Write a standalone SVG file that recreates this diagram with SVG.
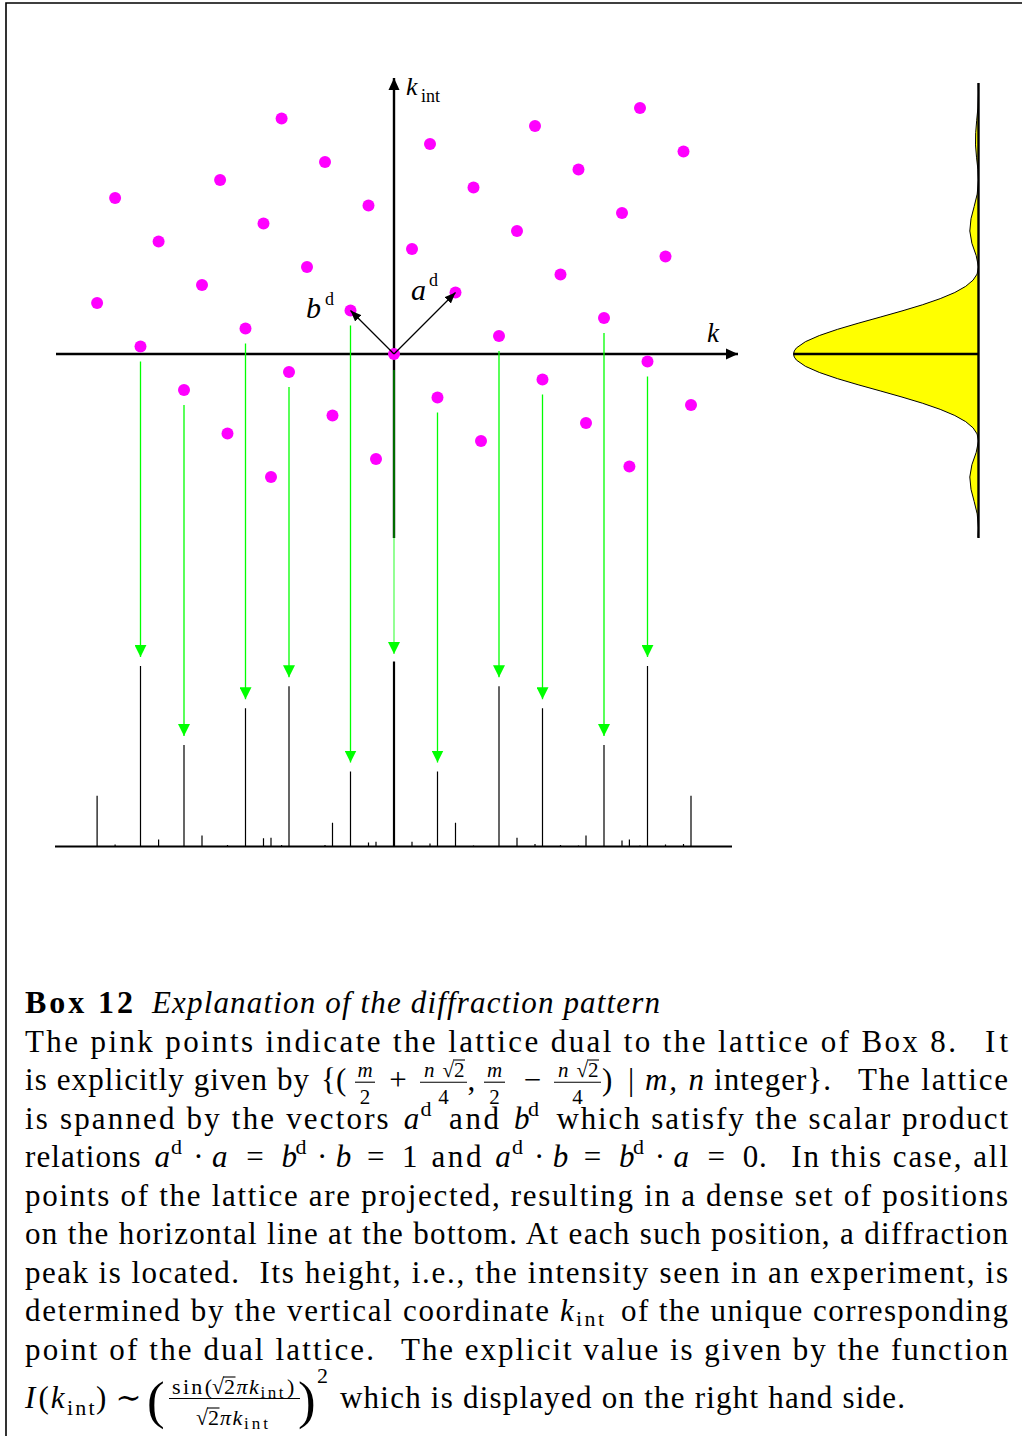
<svg xmlns="http://www.w3.org/2000/svg" width="1022" height="1436" viewBox="0 0 1022 1436">
<style>
.dot{fill:#ff00ff}
.axis{stroke:#000;stroke-width:2.4;fill:none}
.vec{stroke:#000;stroke-width:1.3;fill:none}
.proj{stroke:#00ff00;stroke-width:1.3;fill:none}
.peak{stroke:#000;stroke-width:1.2;fill:none}
.t{font-family:"Liberation Serif","DejaVu Serif",serif;font-size:31px;fill:#000}
.lab{font-family:"Liberation Serif","DejaVu Serif",serif;fill:#000}
.it{font-style:italic}
.s{font-size:22px}
.fr{font-size:21px}
.ss{font-size:17px}
.big{font-size:53px}
.rule{stroke:#000;stroke-width:1.1}
</style>
<defs>
<marker id="ah" markerUnits="userSpaceOnUse" viewBox="0 0 12 12" markerWidth="12" markerHeight="12" refX="12" refY="6" orient="auto"><path d="M0,0.5 L12,6 L0,11.5 Z" fill="#000"/></marker>
<marker id="vh" markerUnits="userSpaceOnUse" viewBox="0 0 11 9" markerWidth="11" markerHeight="9" refX="11" refY="4.5" orient="auto"><path d="M0,0 L11,4.5 L0,9 Z" fill="#000"/></marker>
<marker id="gh" markerUnits="userSpaceOnUse" viewBox="0 0 12 12" markerWidth="12" markerHeight="12" refX="12" refY="6" orient="auto"><path d="M0,0 L12,6 L0,12 Z" fill="#00ff00"/></marker>
</defs>
<path d="M6,1436 V3 H1022" fill="none" stroke="#000" stroke-width="1.6"/>

<g id="profile">
<path d="M978.5,83.4 L978.3,83.4 L978.5,93.1 L977.9,108 L976.7,120.3 L975.7,132.6 L975.5,144.9 L976.5,157.2 L977.9,169.5 L978.5,180.1 L977.2,194.1 L974.2,206.4 L971.0,218.7 L969.8,231 L971.9,243.3 L976.2,255.6 L978.5,267.0 L977.1,274.05 L973.0,280.2 L965.7,286.35 L954.8,292.5 L940.2,298.65 L922.4,304.8 L902.0,310.95 L880.2,317.1 L858.1,323.25 L837.3,329.4 L819.3,335.55 L805.4,341.7 L796.5,347.85 L794.3,350.9 L793.5,354 L794.3,357.1 L796.5,360.15 L805.4,366.3 L819.3,372.45 L837.3,378.6 L858.1,384.75 L880.2,390.9 L902.0,397.05 L922.4,403.2 L940.2,409.35 L954.8,415.5 L965.7,421.65 L973.0,427.8 L977.1,433.95 L978.5,441.0 L976.2,452.4 L971.9,464.7 L969.8,477 L971.0,489.3 L974.2,501.6 L977.2,513.9 L978.5,527.9 L978.0,537.3 L978.5,537.3 Z" fill="#ffff00" stroke="#000" stroke-width="1" stroke-linejoin="round"/>
<line class="axis" x1="978.5" y1="83" x2="978.5" y2="538"/>
<line class="axis" x1="793.5" y1="354" x2="978.5" y2="354"/>
</g>

<g id="axes">
<line class="axis" x1="56" y1="354" x2="738" y2="354" marker-end="url(#ah)"/>
<line class="axis" x1="394" y1="538" x2="394" y2="78" marker-end="url(#ah)"/>
</g>

<g id="connectors">
<line class="proj" x1="140.5" y1="361.5" x2="140.5" y2="656.9" marker-end="url(#gh)"/>
<line class="proj" x1="184" y1="405" x2="184" y2="736" marker-end="url(#gh)"/>
<line class="proj" x1="245.5" y1="343.5" x2="245.5" y2="699.2" marker-end="url(#gh)"/>
<line class="proj" x1="289" y1="387" x2="289" y2="677.2" marker-end="url(#gh)"/>
<line class="proj" x1="350.5" y1="325.5" x2="350.5" y2="762.5" marker-end="url(#gh)"/>
<line class="proj" x1="394" y1="370" x2="394" y2="654" stroke-opacity="0.65" marker-end="url(#gh)"/>
<line class="proj" x1="437.5" y1="412.5" x2="437.5" y2="762.5" marker-end="url(#gh)"/>
<line class="proj" x1="499" y1="351" x2="499" y2="677.2" marker-end="url(#gh)"/>
<line class="proj" x1="542.5" y1="394.5" x2="542.5" y2="699.2" marker-end="url(#gh)"/>
<line class="proj" x1="604" y1="333" x2="604" y2="736" marker-end="url(#gh)"/>
<line class="proj" x1="647.5" y1="376.5" x2="647.5" y2="656.9" marker-end="url(#gh)"/>
</g>

<g id="lattice">
<circle id="p_m2_n4" class="dot" cx="97.1" cy="303" r="6"/>
<circle id="p_m2_n3" class="dot" cx="140.5" cy="346.5" r="6"/>
<circle id="p_m2_n2" class="dot" cx="184" cy="390" r="6"/>
<circle id="p_m2_n1" class="dot" cx="227.5" cy="433.5" r="6"/>
<circle id="p_m2_n0" class="dot" cx="271" cy="477" r="6"/>
<circle id="p_m1_n5" class="dot" cx="115.1" cy="198.1" r="6"/>
<circle id="p_m1_n4" class="dot" cx="158.6" cy="241.5" r="6"/>
<circle id="p_m1_n3" class="dot" cx="202" cy="285" r="6"/>
<circle id="p_m1_n2" class="dot" cx="245.5" cy="328.5" r="6"/>
<circle id="p_m1_n1" class="dot" cx="289" cy="372" r="6"/>
<circle id="p_m1_p0" class="dot" cx="332.5" cy="415.5" r="6"/>
<circle id="p_m1_p1" class="dot" cx="376" cy="459" r="6"/>
<circle id="p_0_n4" class="dot" cx="220.1" cy="180" r="6"/>
<circle id="p_0_n3" class="dot" cx="263.5" cy="223.5" r="6"/>
<circle id="p_0_n2" class="dot" cx="307" cy="267" r="6"/>
<circle id="p_0_n1" class="dot" cx="350.5" cy="310.5" r="6"/>
<circle id="p_0_0" class="dot" cx="394" cy="354" r="6"/>
<circle id="p_0_p1" class="dot" cx="437.5" cy="397.5" r="6"/>
<circle id="p_0_p2" class="dot" cx="481" cy="441" r="6"/>
<circle id="p_1_n4" class="dot" cx="281.6" cy="118.5" r="6"/>
<circle id="p_1_n3" class="dot" cx="325" cy="162" r="6"/>
<circle id="p_1_n2" class="dot" cx="368.5" cy="205.5" r="6"/>
<circle id="p_1_n1" class="dot" cx="412" cy="249" r="6"/>
<circle id="p_1_0" class="dot" cx="455.5" cy="292.5" r="6"/>
<circle id="p_1_p1" class="dot" cx="499" cy="336" r="6"/>
<circle id="p_1_p2" class="dot" cx="542.5" cy="379.5" r="6"/>
<circle id="p_1_p3" class="dot" cx="586" cy="423" r="6"/>
<circle id="p_1_p4" class="dot" cx="629.4" cy="466.5" r="6"/>
<circle id="p_2_n2" class="dot" cx="430" cy="144" r="6"/>
<circle id="p_2_n1" class="dot" cx="473.5" cy="187.5" r="6"/>
<circle id="p_2_0" class="dot" cx="517" cy="231" r="6"/>
<circle id="p_2_p1" class="dot" cx="560.5" cy="274.5" r="6"/>
<circle id="p_2_p2" class="dot" cx="604" cy="318" r="6"/>
<circle id="p_2_p3" class="dot" cx="647.5" cy="361.5" r="6"/>
<circle id="p_2_p4" class="dot" cx="691" cy="405" r="6"/>
<circle id="p_3_n1" class="dot" cx="535" cy="126" r="6"/>
<circle id="p_3_0" class="dot" cx="578.5" cy="169.5" r="6"/>
<circle id="p_3_p1" class="dot" cx="622" cy="213" r="6"/>
<circle id="p_3_p2" class="dot" cx="665.5" cy="256.5" r="6"/>
<circle id="p_4_0" class="dot" cx="640" cy="108" r="6"/>
<circle id="p_4_p1" class="dot" cx="683.5" cy="151.5" r="6"/>
</g>

<g id="vectors">
<line class="vec" x1="394" y1="354" x2="455.5" y2="292.5" marker-end="url(#vh)"/>
<line class="vec" x1="394" y1="354" x2="350.5" y2="310.5" marker-end="url(#vh)"/>
</g>

<g id="peaks">
<line x1="55" y1="846.5" x2="732" y2="846.5" stroke="#000" stroke-width="1.8"/>
<path class="peak" d="M97.1,846.5V795.8 M115.1,846.5V844.4 M140.5,846.5V665.9 M158.6,846.5V839.4 M184,846.5V745 M202,846.5V835.6 M227.5,846.5V844.9 M245.5,846.5V708.2 M263.5,846.5V838.2 M271,846.5V837.8 M281.6,846.5V844.9 M289,846.5V686.2 M325,846.5V845.1 M332.5,846.5V822.8 M350.5,846.5V771.5 M368.5,846.5V842.4 M376,846.5V841.8 M412,846.5V841.8 M430,846.5V843.5 M437.5,846.5V771.5 M455.5,846.5V822.8 M473.5,846.5V845.6 M499,846.5V686.2 M517,846.5V837.8 M535,846.5V844.1 M542.5,846.5V708.2 M560.5,846.5V844.9 M578.5,846.5V845.5 M586,846.5V835.6 M604,846.5V745 M622,846.5V840.4 M629.4,846.5V839.4 M640,846.5V845.5 M647.5,846.5V665.9 M665.5,846.5V844.4 M683.5,846.5V844 M691,846.5V795.8"/>
<line x1="394" y1="846.5" x2="394" y2="661.5" stroke="#000" stroke-width="2.2"/>
</g>

<g id="labels">
<text class="lab it" x="406" y="95" font-size="26">k</text>
<text class="lab" x="421" y="102" font-size="18">int</text>
<text class="lab it" x="707" y="342" font-size="27">k</text>
<text class="lab it" x="411" y="300" font-size="30">a</text>
<text class="lab" x="429" y="286" font-size="18">d</text>
<text class="lab it" x="306" y="318" font-size="30">b</text>
<text class="lab" x="325" y="305" font-size="18">d</text>
</g>

<g id="caption">
<text class="t" x="25" y="1013" style="font-size:32px;font-weight:bold" textLength="108" lengthAdjust="spacing">Box 12</text>
<text class="t it" x="152" y="1013" textLength="508" lengthAdjust="spacing">Explanation of the diffraction pattern</text>

<text class="t" x="25" y="1051.5" textLength="931" lengthAdjust="spacing">The pink points indicate the lattice dual to the lattice of Box 8.</text>
<text class="t" x="985" y="1051.5" textLength="23" lengthAdjust="spacing">It</text>

<text class="t" x="25" y="1090" textLength="284" lengthAdjust="spacing">is explicitly given by</text>
<text class="t" x="321" y="1090">{</text>
<text class="t" x="336" y="1090">(</text>
<text class="t fr it" x="365" y="1076.5" text-anchor="middle">m</text>
<line class="rule" x1="355" y1="1082.2" x2="375" y2="1082.2"/>
<text class="t fr" x="365" y="1103.5" text-anchor="middle">2</text>
<text class="t" x="398" y="1090" text-anchor="middle">+</text>
<text class="t fr it" x="424" y="1076.5">n</text>
<text class="t fr" x="454" y="1076.5" text-anchor="end">√</text>
<text class="t fr" x="454" y="1076.5">2</text>
<line class="rule" x1="453" y1="1060" x2="465" y2="1060"/>
<line class="rule" x1="420" y1="1082.2" x2="467" y2="1082.2"/>
<text class="t fr" x="443.5" y="1103.5" text-anchor="middle">4</text>
<text class="t" x="467.5" y="1090">,</text>
<text class="t fr it" x="494.5" y="1076.5" text-anchor="middle">m</text>
<line class="rule" x1="484" y1="1082.2" x2="505" y2="1082.2"/>
<text class="t fr" x="494.5" y="1103.5" text-anchor="middle">2</text>
<text class="t" x="532.5" y="1090" text-anchor="middle">−</text>
<text class="t fr it" x="558" y="1076.5">n</text>
<text class="t fr" x="588" y="1076.5" text-anchor="end">√</text>
<text class="t fr" x="588" y="1076.5">2</text>
<line class="rule" x1="587" y1="1060" x2="599" y2="1060"/>
<line class="rule" x1="554" y1="1082.2" x2="601" y2="1082.2"/>
<text class="t fr" x="577.5" y="1103.5" text-anchor="middle">4</text>
<text class="t" x="602" y="1090">)</text>
<text class="t" x="631" y="1090" text-anchor="middle">|</text>
<text class="t it" x="645" y="1090" textLength="59" lengthAdjust="spacing">m, n</text>
<text class="t" x="714" y="1090" textLength="117" lengthAdjust="spacing">integer}.</text>
<text class="t" x="858" y="1090" textLength="150" lengthAdjust="spacing">The lattice</text>

<text class="t" x="25" y="1128.5" textLength="363.7" lengthAdjust="spacing">is spanned by the vectors</text>
<text class="t it" x="403.7" y="1128.5">a</text>
<text class="t s" x="420.6" y="1115.5">d</text>
<text class="t" x="449.1" y="1128.5" textLength="50" lengthAdjust="spacing">and</text>
<text class="t it" x="514.1" y="1128.5">b</text>
<text class="t s" x="528" y="1115.5">d</text>
<text class="t" x="556.4" y="1128.5" textLength="451.6" lengthAdjust="spacing">which satisfy the scalar product</text>

<text class="t" x="25" y="1167" textLength="115.7" lengthAdjust="spacing">relations</text>
<text class="t it" x="154.5" y="1167">a</text>
<text class="t s" x="171" y="1154">d</text>
<text class="t" x="198.4" y="1167" text-anchor="middle">·</text>
<text class="t it" x="212" y="1167">a</text>
<text class="t" x="254.9" y="1167" text-anchor="middle">=</text>
<text class="t it" x="281.4" y="1167">b</text>
<text class="t s" x="295.5" y="1154">d</text>
<text class="t" x="322.2" y="1167" text-anchor="middle">·</text>
<text class="t it" x="335.8" y="1167">b</text>
<text class="t" x="375.7" y="1167" text-anchor="middle">=</text>
<text class="t" x="402.1" y="1167">1</text>
<text class="t" x="431.4" y="1167" textLength="50" lengthAdjust="spacing">and</text>
<text class="t it" x="495.2" y="1167">a</text>
<text class="t s" x="512" y="1154">d</text>
<text class="t" x="539.1" y="1167" text-anchor="middle">·</text>
<text class="t it" x="552.7" y="1167">b</text>
<text class="t" x="592.5" y="1167" text-anchor="middle">=</text>
<text class="t it" x="619" y="1167">b</text>
<text class="t s" x="633" y="1154">d</text>
<text class="t" x="659.8" y="1167" text-anchor="middle">·</text>
<text class="t it" x="673.4" y="1167">a</text>
<text class="t" x="716.3" y="1167" text-anchor="middle">=</text>
<text class="t" x="742.8" y="1167" textLength="24" lengthAdjust="spacing">0.</text>
<text class="t" x="791.2" y="1167" textLength="216.8" lengthAdjust="spacing">In this case, all</text>

<text class="t" x="25" y="1205.5" textLength="983" lengthAdjust="spacing">points of the lattice are projected, resulting in a dense set of positions</text>
<text class="t" x="25" y="1244" textLength="983" lengthAdjust="spacing">on the horizontal line at the bottom. At each such position, a diffraction</text>
<text class="t" x="25" y="1282.5" textLength="214" lengthAdjust="spacing">peak is located.</text>
<text class="t" x="259.4" y="1282.5" textLength="748.6" lengthAdjust="spacing">Its height, i.e., the intensity seen in an experiment, is</text>

<text class="t" x="25" y="1321" textLength="524" lengthAdjust="spacing">determined by the vertical coordinate</text>
<text class="t it" x="560" y="1321">k</text>
<text class="t s" x="576" y="1326" textLength="28" lengthAdjust="spacing">int</text>
<text class="t" x="621" y="1321" textLength="387" lengthAdjust="spacing">of the unique corresponding</text>

<text class="t" x="25" y="1359.5" textLength="349" lengthAdjust="spacing">point of the dual lattice.</text>
<text class="t" x="401" y="1359.5" textLength="607" lengthAdjust="spacing">The explicit value is given by the function</text>

<text class="t it" x="25" y="1408">I</text>
<text class="t" x="38.6" y="1408">(</text>
<text class="t it" x="50.7" y="1408">k</text>
<text class="t s" x="66.9" y="1415" textLength="27.6" lengthAdjust="spacing">int</text>
<text class="t" x="95.9" y="1408">)</text>
<text class="t" x="128.6" y="1408" text-anchor="middle">∼</text>
<text class="t big" x="147" y="1418">(</text>
<text class="t s" x="172" y="1394" textLength="40" lengthAdjust="spacing">sin(</text>
<text class="t s" x="224" y="1394" text-anchor="end">√</text>
<text class="t s" x="224" y="1394">2</text>
<line class="rule" x1="223" y1="1377" x2="235.5" y2="1377"/>
<text class="t s it" x="236.5" y="1394">π</text>
<text class="t s it" x="249" y="1394">k</text>
<text class="t ss" x="260.5" y="1398" textLength="23" lengthAdjust="spacing">int</text>
<text class="t s" x="287" y="1394">)</text>
<line class="rule" x1="169" y1="1398.5" x2="300" y2="1398.5"/>
<text class="t s" x="208" y="1425" text-anchor="end">√</text>
<text class="t s" x="208" y="1425">2</text>
<line class="rule" x1="207" y1="1408" x2="219.5" y2="1408"/>
<text class="t s it" x="220" y="1425">π</text>
<text class="t s it" x="232.5" y="1425">k</text>
<text class="t ss" x="244" y="1429" textLength="24" lengthAdjust="spacing">int</text>
<text class="t big" x="298" y="1418">)</text>
<text class="t s" x="317" y="1383">2</text>
<text class="t" x="340" y="1408" textLength="565" lengthAdjust="spacing">which is displayed on the right hand side.</text>
</g>
</svg>
